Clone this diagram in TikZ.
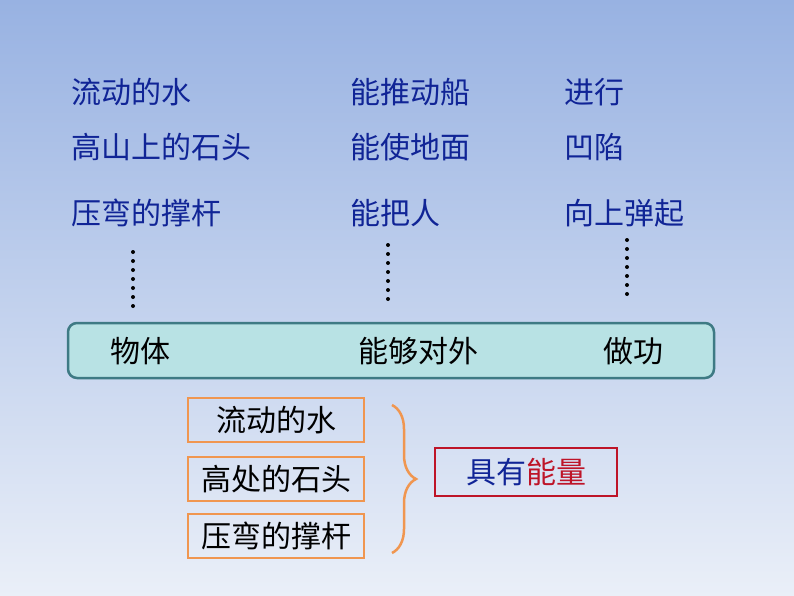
\documentclass[tikz,border=0pt]{standalone}
\usepackage{fontspec}
\setmainfont{Noto Sans CJK SC}
\usepackage{xcolor}
\usetikzlibrary{positioning,decorations.pathreplacing}

\definecolor{bgtop}{RGB}{152,178,226}
\definecolor{bgbot}{RGB}{234,239,248}
\definecolor{txtblue}{RGB}{16,36,150}
\definecolor{tealfill}{RGB}{184,226,228}
\definecolor{tealline}{RGB}{62,122,132}
\definecolor{boxorange}{RGB}{240,150,80}
\definecolor{boxred}{RGB}{190,20,40}

\tikzset{
  toptext/.style={anchor=west, text=txtblue, font=\fontsize{30}{36}\selectfont, inner sep=0pt},
  bartext/.style={text=black, font=\fontsize{30}{36}\selectfont, inner sep=0pt},
  itembox/.style={draw=boxorange, line width=2.5pt, minimum width=176pt, minimum height=44pt,
                  font=\fontsize{30}{36}\selectfont, inner sep=0pt},
  dotline/.style={line width=4pt, line cap=round, dash pattern=on 0pt off 9pt}
}

\begin{document}
\begin{tikzpicture}[x=1pt,y=-1pt]
\useasboundingbox (0,0) rectangle (794,596);
\shade[top color=bgtop, bottom color=bgbot] (0,0) rectangle (794,596);

% three columns of examples
\node[toptext] (w1) at (71,92) {流动的水};
\node[toptext] (w2) at (71,147) {高山上的石头};
\node[toptext] (w3) at (71,213) {压弯的撑杆};
\node[toptext] (m1) at (350,92) {能推动船};
\node[toptext] (m2) at (350,147) {能使地面};
\node[toptext] (m3) at (350,213) {能把人};
\node[toptext] (r1) at (564,92) {进行};
\node[toptext] (r2) at (564,147) {凹陷};
\node[toptext] (r3) at (564,213) {向上弹起};

\draw[dotline] (133,252)--(133,307);
\draw[dotline] (388,245)--(388,300);
\draw[dotline] (627,240)--(627,295);

% the summary bar
\draw[tealline, fill=tealfill, line width=2.5pt, rounded corners=9pt] (68,323) rectangle (714,378);
\node[bartext] (b1) at (140,351) {物体};
\node[bartext] (b2) at (418,351) {能够对外};
\node[bartext] (b3) at (633,351) {做功};

% objects with energy
\node[itembox] (o1) at (276,420) {流动的水};
\node[itembox] (o2) at (276,479) {高处的石头};
\node[itembox] (o3) at (276,536) {压弯的撑杆};

\draw[boxorange, line width=2.5pt, decorate, decoration={brace, amplitude=24pt}] (392,405)--(392,553);

\node[draw=boxred, line width=2.5pt, minimum width=182pt, minimum height=48pt, inner sep=0pt,
      font=\fontsize{30}{36}\selectfont] (en) at (526,472)
      {\textcolor{txtblue}{具有}\textcolor{boxred}{能量}};
\end{tikzpicture}
\end{document}
